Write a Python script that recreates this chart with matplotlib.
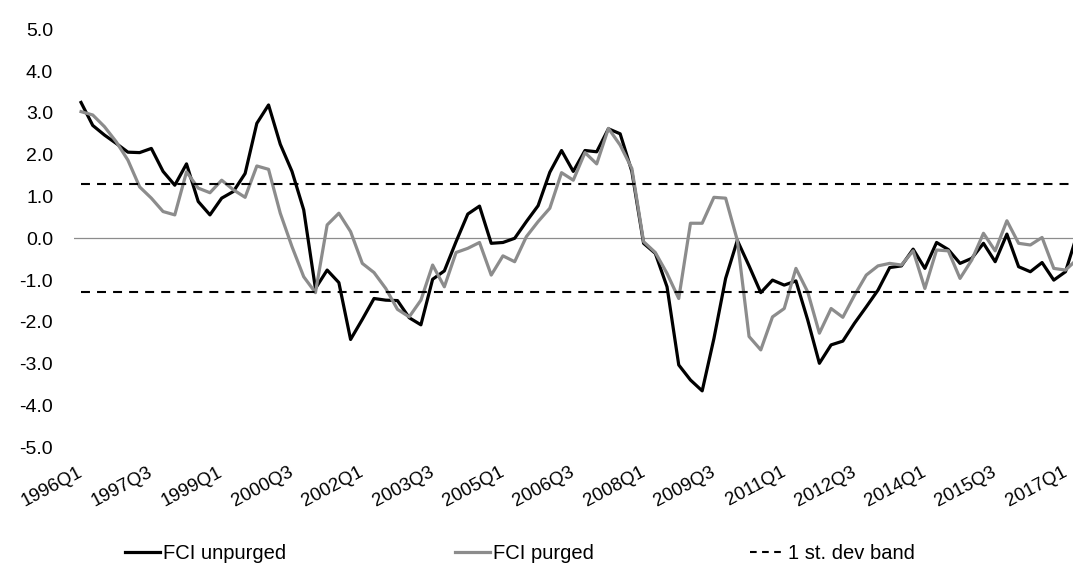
import numpy as np
import matplotlib
matplotlib.use("Agg")
import matplotlib.pyplot as plt
from matplotlib.lines import Line2D

plt.rcParams['font.family'] = ['Liberation Sans', 'DejaVu Sans']

# quarters 1996Q1 .. 2017Q2
quarters = [f"{y}Q{q}" for y in range(1996, 2018) for q in range(1, 5)][:86]

fci_unpurged = [
    3.25, 2.70, 2.47, 2.27, 2.06, 2.05, 2.15, 1.60, 1.27, 1.78,
    0.88, 0.56, 0.96, 1.12, 1.55, 2.75, 3.19, 2.25, 1.60, 0.68,
    -1.20, -0.76, -1.06, -2.42, -1.94, -1.44, -1.48, -1.49, -1.90, -2.07,
    -0.98, -0.78, -0.08, 0.58, 0.77, -0.12, -0.10, 0.00, 0.40, 0.78,
    1.58, 2.10, 1.60, 2.10, 2.07, 2.62, 2.50, 1.60, -0.12, -0.36,
    -1.16, -3.03, -3.39, -3.65, -2.40, -0.96, -0.05, -0.66, -1.30, -1.00,
    -1.12, -1.02, -1.95, -2.99, -2.55, -2.46, -2.03, -1.64, -1.24, -0.70,
    -0.66, -0.26, -0.72, -0.10, -0.27, -0.60, -0.48, -0.12, -0.56, 0.10,
    -0.68, -0.80, -0.58, -1.00, -0.80, 0.10,
]

fci_purged = [
    3.03, 2.95, 2.67, 2.31, 1.87, 1.23, 0.96, 0.64, 0.56, 1.59,
    1.20, 1.09, 1.39, 1.16, 0.98, 1.73, 1.65, 0.60, -0.20, -0.92,
    -1.30, 0.32, 0.60, 0.16, -0.60, -0.82, -1.20, -1.70, -1.88, -1.48,
    -0.64, -1.16, -0.34, -0.24, -0.10, -0.88, -0.42, -0.56, 0.04, 0.40,
    0.72, 1.57, 1.39, 2.05, 1.78, 2.63, 2.23, 1.67, -0.08, -0.34,
    -0.84, -1.44, 0.36, 0.36, 0.98, 0.96, -0.05, -2.35, -2.67, -1.88,
    -1.68, -0.72, -1.28, -2.27, -1.68, -1.89, -1.36, -0.88, -0.66, -0.60,
    -0.64, -0.30, -1.20, -0.28, -0.30, -0.96, -0.52, 0.12, -0.30, 0.42,
    -0.12, -0.16, 0.02, -0.72, -0.76, -0.50,
]

band = 1.29
tick_idx = list(range(0, 86, 6))

fig = plt.figure(figsize=(10.73, 5.72), dpi=100)
ax = fig.add_axes([74 / 1073, 0.218, 1 - 74 / 1073, 0.9488 - 0.218])

x = np.arange(len(quarters))
ax.axhline(0, color='#8c8c8c', linewidth=0.9, zorder=1)
l1, = ax.plot(x, fci_unpurged, color='black', linewidth=2.3, zorder=3)
l2, = ax.plot(x, fci_purged, color='#8c8c8c', linewidth=2.3, zorder=4)
l3, = ax.plot(x, [band] * len(x), color='black', linewidth=1.5, dashes=(4.3, 3.4), zorder=5)
ax.plot(x, [-band] * len(x), color='black', linewidth=1.5, dashes=(4.3, 3.4), zorder=5)

ax.set_xlim(-0.6, 84.64)
ax.set_ylim(-5, 5)
ax.set_yticks(np.arange(-5, 5.1, 1))
ax.set_yticklabels([f"{v:.1f}" for v in np.arange(-5, 5.1, 1)], fontsize=14)
ax.set_xticks(tick_idx)
ax.set_xticklabels([quarters[i] for i in tick_idx], rotation=28, ha='right',
                   va='center', rotation_mode='anchor', fontsize=13.5)
ax.tick_params(axis='y', length=0, pad=15)
ax.tick_params(axis='x', length=0, pad=17)
for s in ax.spines.values():
    s.set_visible(False)

# legend entries placed one by one, like the reference
entries = [(l1, 'FCI unpurged', 125), (l2, 'FCI purged', 455), (l3, '1 st. dev band', 750)]
for handle, text, xpos in entries:
    h = Line2D([], [], color=handle.get_color(), linewidth=handle.get_linewidth(),
               linestyle=handle.get_linestyle())
    if text.startswith('1 st'):
        h.set_dashes((3.2, 2.6))
    leg = fig.legend([h], [text], loc='center left', bbox_to_anchor=(xpos / 1073, 0.033),
                     frameon=False, fontsize=14.5, handlelength=1.75, handletextpad=0.15,
                     borderpad=0, borderaxespad=0)

fig.savefig('out.png', dpi=100)
